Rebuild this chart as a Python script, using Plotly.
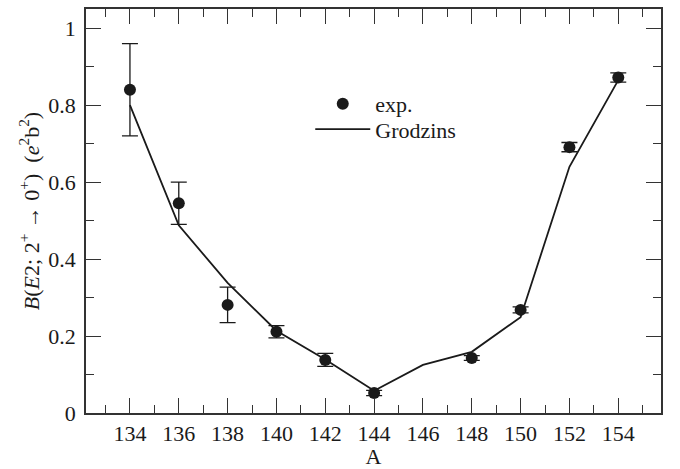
import plotly.graph_objects as go

# Mass number A of the even-even isotopes
mass_exp = [134, 136, 138, 140, 142, 144, 148, 150, 152, 154]
# Measured B(E2; 2+ -> 0+) in e^2 b^2 and their uncertainties
be2_exp = [0.84, 0.545, 0.281, 0.211, 0.138, 0.052, 0.143, 0.268, 0.691, 0.872]
be2_err = [0.12, 0.055, 0.046, 0.016, 0.017, 0.007, 0.006, 0.008, 0.012, 0.012]

# Grodzins systematics estimate
mass_grod = [134, 136, 138, 140, 142, 144, 146, 148, 150, 152, 154]
be2_grod = [0.80, 0.488, 0.338, 0.214, 0.139, 0.058, 0.125, 0.159, 0.249, 0.640, 0.865]

x_ticks = [134, 136, 138, 140, 142, 144, 146, 148, 150, 152, 154]
y_ticks = [0, 0.2, 0.4, 0.6, 0.8, 1.0]
y_tick_text = ["0", "0.2", "0.4", "0.6", "0.8", "1"]

serif = "Liberation Serif, Times New Roman, serif"
ink = "#1a1a1a"

fig = go.Figure()

fig.add_trace(go.Scatter(
    x=mass_exp, y=be2_exp, mode="markers", name="exp.", legend="legend",
    marker=dict(symbol="circle", size=12, color=ink),
    error_y=dict(type="data", array=be2_err, visible=True,
                 color=ink, thickness=1.3, width=8),
))

fig.add_trace(go.Scatter(
    x=mass_grod, y=be2_grod, mode="lines", name="Grodzins", legend="legend2",
    line=dict(color=ink, width=1.8),
))

axis_common = dict(
    showline=True, linecolor="#333333", linewidth=1.5, mirror="ticks",
    ticks="inside", tickcolor="#333333", tickwidth=1.3,
    showgrid=False, zeroline=False,
    tickfont=dict(family=serif, size=22, color=ink),
)

fig.update_xaxes(
    range=[132.2, 155.75], tickvals=x_ticks, ticklen=15,
    minor=dict(dtick=1, tick0=133, ticks="inside", ticklen=8,
               tickcolor="#333333", tickwidth=1.3, showgrid=False),
    title=dict(text="A", font=dict(family=serif, size=22, color=ink), standoff=0),
    **axis_common,
)

fig.update_yaxes(
    range=[0, 1.05], tickvals=y_ticks, ticktext=y_tick_text, ticklen=15,
    minor=dict(dtick=0.1, tick0=0.1, ticks="inside", ticklen=8,
               tickcolor="#333333", tickwidth=1.3, showgrid=False),
    title=dict(
        text="<i>B</i>(<i>E</i>2; 2<sup>+</sup> \u2192 0<sup>+</sup>)  (<i>e</i><sup>2</sup>b<sup>2</sup>)",
        font=dict(family=serif, size=22, color=ink), standoff=3),
    ticklabelstandoff=4,
    **axis_common,
)

legend_style = dict(
    xanchor="left", yanchor="top",
    bgcolor="rgba(0,0,0,0)", borderwidth=0,
    font=dict(family=serif, size=22, color=ink),
    itemwidth=55,
)

fig.update_layout(
    width=680, height=469,
    margin=dict(l=86, r=19, t=7, b=52),
    paper_bgcolor="white", plot_bgcolor="white",
    showlegend=True,
    legend=dict(x=0.39, y=0.817, **legend_style),
    legend2=dict(x=0.39, y=0.754, **legend_style),
)

fig.write_html("out.html")
